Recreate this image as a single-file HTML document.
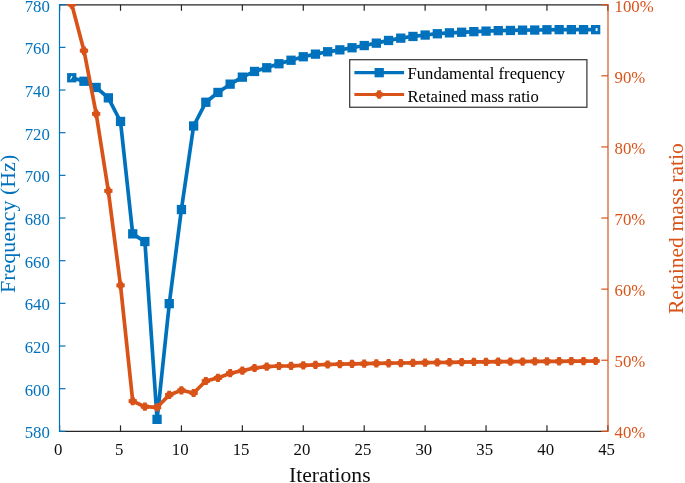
<!DOCTYPE html>
<html><head><meta charset="utf-8"><title>Iterations</title>
<style>
html,body{margin:0;padding:0;background:#fff;}
svg{display:block;}
text{font-family:"Liberation Serif","Times New Roman",serif;}
.tk{font-size:16.8px;}
.lab{font-size:21.8px;}
.leg{font-size:16.65px;}
</style></head><body>
<svg width="685" height="483" viewBox="0 0 685 483">
<rect width="685" height="483" fill="#fff"/>
<defs><clipPath id="c"><rect x="59.5" y="4.1000000000000005" width="548.5" height="427.25000000000006"/></clipPath></defs>

<g stroke="#262626" stroke-width="1.2" fill="none">
<line x1="59.5" y1="431.35" x2="608.0" y2="431.35"/>
<line x1="59.5" y1="4.8" x2="608.0" y2="4.8" stroke-width="1.15"/>
<line x1="59.60" y1="431.35" x2="59.60" y2="425.35"/>
<line x1="59.60" y1="4.7" x2="59.60" y2="10.8"/>
<line x1="120.52" y1="431.35" x2="120.52" y2="425.35"/>
<line x1="120.52" y1="4.7" x2="120.52" y2="10.8"/>
<line x1="181.44" y1="431.35" x2="181.44" y2="425.35"/>
<line x1="181.44" y1="4.7" x2="181.44" y2="10.8"/>
<line x1="242.36" y1="431.35" x2="242.36" y2="425.35"/>
<line x1="242.36" y1="4.7" x2="242.36" y2="10.8"/>
<line x1="303.28" y1="431.35" x2="303.28" y2="425.35"/>
<line x1="303.28" y1="4.7" x2="303.28" y2="10.8"/>
<line x1="364.20" y1="431.35" x2="364.20" y2="425.35"/>
<line x1="364.20" y1="4.7" x2="364.20" y2="10.8"/>
<line x1="425.12" y1="431.35" x2="425.12" y2="425.35"/>
<line x1="425.12" y1="4.7" x2="425.12" y2="10.8"/>
<line x1="486.04" y1="431.35" x2="486.04" y2="425.35"/>
<line x1="486.04" y1="4.7" x2="486.04" y2="10.8"/>
<line x1="546.96" y1="431.35" x2="546.96" y2="425.35"/>
<line x1="546.96" y1="4.7" x2="546.96" y2="10.8"/>
<line x1="607.88" y1="431.35" x2="607.88" y2="425.35"/>
<line x1="607.88" y1="4.7" x2="607.88" y2="10.8"/>
</g>
<g clip-path="url(#c)">
<polyline points="71.8,77.8 84.0,81.3 96.2,87.5 108.3,97.9 120.5,121.5 132.7,233.9 144.9,241.6 157.1,419.3 169.3,303.6 181.4,209.6 193.6,126.0 205.8,102.3 218.0,92.5 230.2,84.2 242.4,77.2 254.5,71.4 266.7,67.7 278.9,63.7 291.1,60.2 303.3,56.8 315.5,54.1 327.6,51.8 339.8,49.9 352.0,47.8 364.2,45.5 376.4,43.1 388.6,40.4 400.8,38.1 412.9,36.4 425.1,35.0 437.3,33.7 449.5,32.9 461.7,32.3 473.9,31.7 486.0,31.1 498.2,30.6 510.4,30.4 522.6,30.2 534.8,30.0 547.0,29.8 559.1,29.6 571.3,29.6 583.5,29.6 595.7,29.6" fill="none" stroke="#0072BD" stroke-width="3.7" stroke-linejoin="round"/>
<rect x="67.1" y="73.1" width="9.3" height="9.3" fill="#0072BD"/>
<rect x="79.3" y="76.6" width="9.3" height="9.3" fill="#0072BD"/>
<rect x="91.5" y="82.8" width="9.3" height="9.3" fill="#0072BD"/>
<rect x="103.7" y="93.2" width="9.3" height="9.3" fill="#0072BD"/>
<rect x="115.9" y="116.8" width="9.3" height="9.3" fill="#0072BD"/>
<rect x="128.1" y="229.2" width="9.3" height="9.3" fill="#0072BD"/>
<rect x="140.2" y="236.9" width="9.3" height="9.3" fill="#0072BD"/>
<rect x="152.4" y="414.7" width="9.3" height="9.3" fill="#0072BD"/>
<rect x="164.6" y="299.0" width="9.3" height="9.3" fill="#0072BD"/>
<rect x="176.8" y="204.9" width="9.3" height="9.3" fill="#0072BD"/>
<rect x="189.0" y="121.3" width="9.3" height="9.3" fill="#0072BD"/>
<rect x="201.2" y="97.6" width="9.3" height="9.3" fill="#0072BD"/>
<rect x="213.3" y="87.8" width="9.3" height="9.3" fill="#0072BD"/>
<rect x="225.5" y="79.5" width="9.3" height="9.3" fill="#0072BD"/>
<rect x="237.7" y="72.5" width="9.3" height="9.3" fill="#0072BD"/>
<rect x="249.9" y="66.8" width="9.3" height="9.3" fill="#0072BD"/>
<rect x="262.1" y="63.1" width="9.3" height="9.3" fill="#0072BD"/>
<rect x="274.3" y="59.1" width="9.3" height="9.3" fill="#0072BD"/>
<rect x="286.4" y="55.6" width="9.3" height="9.3" fill="#0072BD"/>
<rect x="298.6" y="52.1" width="9.3" height="9.3" fill="#0072BD"/>
<rect x="310.8" y="49.5" width="9.3" height="9.3" fill="#0072BD"/>
<rect x="323.0" y="47.1" width="9.3" height="9.3" fill="#0072BD"/>
<rect x="335.2" y="45.2" width="9.3" height="9.3" fill="#0072BD"/>
<rect x="347.4" y="43.1" width="9.3" height="9.3" fill="#0072BD"/>
<rect x="359.6" y="40.9" width="9.3" height="9.3" fill="#0072BD"/>
<rect x="371.7" y="38.5" width="9.3" height="9.3" fill="#0072BD"/>
<rect x="383.9" y="35.8" width="9.3" height="9.3" fill="#0072BD"/>
<rect x="396.1" y="33.5" width="9.3" height="9.3" fill="#0072BD"/>
<rect x="408.3" y="31.8" width="9.3" height="9.3" fill="#0072BD"/>
<rect x="420.5" y="30.4" width="9.3" height="9.3" fill="#0072BD"/>
<rect x="432.7" y="29.1" width="9.3" height="9.3" fill="#0072BD"/>
<rect x="444.8" y="28.2" width="9.3" height="9.3" fill="#0072BD"/>
<rect x="457.0" y="27.6" width="9.3" height="9.3" fill="#0072BD"/>
<rect x="469.2" y="27.0" width="9.3" height="9.3" fill="#0072BD"/>
<rect x="481.4" y="26.5" width="9.3" height="9.3" fill="#0072BD"/>
<rect x="493.6" y="26.0" width="9.3" height="9.3" fill="#0072BD"/>
<rect x="505.8" y="25.8" width="9.3" height="9.3" fill="#0072BD"/>
<rect x="517.9" y="25.5" width="9.3" height="9.3" fill="#0072BD"/>
<rect x="530.1" y="25.4" width="9.3" height="9.3" fill="#0072BD"/>
<rect x="542.3" y="25.1" width="9.3" height="9.3" fill="#0072BD"/>
<rect x="554.5" y="25.0" width="9.3" height="9.3" fill="#0072BD"/>
<rect x="566.7" y="25.0" width="9.3" height="9.3" fill="#0072BD"/>
<rect x="578.9" y="25.0" width="9.3" height="9.3" fill="#0072BD"/>
<rect x="591.0" y="25.0" width="9.3" height="9.3" fill="#0072BD"/>
<path d="M69.88 79.20L71.28 75.90L72.68 75.90L70.98 79.20Z" fill="#fff"/>
<rect x="595.65" y="28.15" width="1.9" height="2.9" fill="#fff"/>
<polyline points="71.8,4.5 84.0,50.7 96.2,113.8 108.3,190.8 120.5,285.3 132.7,401.1 144.9,406.7 157.1,407.3 169.3,394.9 181.4,390.3 193.6,393.0 205.8,381.0 218.0,377.9 230.2,373.2 242.4,370.6 254.5,368.0 266.7,366.6 278.9,366.0 291.1,365.8 303.3,365.3 315.5,364.9 327.6,364.5 339.8,364.1 352.0,363.8 364.2,363.6 376.4,363.4 388.6,363.2 400.8,363.0 412.9,362.9 425.1,362.7 437.3,362.5 449.5,362.3 461.7,362.1 473.9,361.9 486.0,361.8 498.2,361.7 510.4,361.6 522.6,361.5 534.8,361.4 547.0,361.4 559.1,361.3 571.3,361.2 583.5,361.1 595.7,361.0" fill="none" stroke="#D95319" stroke-width="3.7" stroke-linejoin="round"/>
<path d="M67.6 4.5H75.9M71.8 0.3V8.7" stroke="#D95319" stroke-width="3.7" fill="none"/><path d="M69.3 2.0L74.2 7.0M69.3 7.0L74.2 2.0" stroke="#D95319" stroke-width="3.0" fill="none"/>
<path d="M79.8 50.7H88.1M84.0 46.6V54.9" stroke="#D95319" stroke-width="3.7" fill="none"/><path d="M81.5 48.2L86.4 53.2M81.5 53.2L86.4 48.2" stroke="#D95319" stroke-width="3.0" fill="none"/>
<path d="M92.0 113.8H100.3M96.2 109.6V118.0" stroke="#D95319" stroke-width="3.7" fill="none"/><path d="M93.7 111.3L98.6 116.2M93.7 116.2L98.6 111.3" stroke="#D95319" stroke-width="3.0" fill="none"/>
<path d="M104.2 190.8H112.5M108.3 186.7V195.0" stroke="#D95319" stroke-width="3.7" fill="none"/><path d="M105.9 188.4L110.8 193.2M105.9 193.2L110.8 188.4" stroke="#D95319" stroke-width="3.0" fill="none"/>
<path d="M116.4 285.3H124.7M120.5 281.2V289.4" stroke="#D95319" stroke-width="3.7" fill="none"/><path d="M118.1 282.9L123.0 287.8M118.1 287.8L123.0 282.9" stroke="#D95319" stroke-width="3.0" fill="none"/>
<path d="M128.6 401.1H136.9M132.7 397.0V405.2" stroke="#D95319" stroke-width="3.7" fill="none"/><path d="M130.3 398.7L135.2 403.6M130.3 403.6L135.2 398.7" stroke="#D95319" stroke-width="3.0" fill="none"/>
<path d="M140.7 406.7H149.0M144.9 402.6V410.8" stroke="#D95319" stroke-width="3.7" fill="none"/><path d="M142.4 404.2L147.3 409.1M142.4 409.1L147.3 404.2" stroke="#D95319" stroke-width="3.0" fill="none"/>
<path d="M152.9 407.3H161.2M157.1 403.2V411.4" stroke="#D95319" stroke-width="3.7" fill="none"/><path d="M154.6 404.9L159.5 409.8M154.6 409.8L159.5 404.9" stroke="#D95319" stroke-width="3.0" fill="none"/>
<path d="M165.1 394.9H173.4M169.3 390.8V399.0" stroke="#D95319" stroke-width="3.7" fill="none"/><path d="M166.8 392.4L171.7 397.3M166.8 397.3L171.7 392.4" stroke="#D95319" stroke-width="3.0" fill="none"/>
<path d="M177.3 390.3H185.6M181.4 386.2V394.4" stroke="#D95319" stroke-width="3.7" fill="none"/><path d="M179.0 387.9L183.9 392.8M179.0 392.8L183.9 387.9" stroke="#D95319" stroke-width="3.0" fill="none"/>
<path d="M189.5 393.0H197.8M193.6 388.9V397.1" stroke="#D95319" stroke-width="3.7" fill="none"/><path d="M191.2 390.6L196.1 395.4M191.2 395.4L196.1 390.6" stroke="#D95319" stroke-width="3.0" fill="none"/>
<path d="M201.7 381.0H210.0M205.8 376.9V385.1" stroke="#D95319" stroke-width="3.7" fill="none"/><path d="M203.4 378.6L208.3 383.4M203.4 383.4L208.3 378.6" stroke="#D95319" stroke-width="3.0" fill="none"/>
<path d="M213.8 377.9H222.1M218.0 373.8V382.0" stroke="#D95319" stroke-width="3.7" fill="none"/><path d="M215.5 375.4L220.4 380.3M215.5 380.3L220.4 375.4" stroke="#D95319" stroke-width="3.0" fill="none"/>
<path d="M226.0 373.2H234.3M230.2 369.1V377.3" stroke="#D95319" stroke-width="3.7" fill="none"/><path d="M227.7 370.8L232.6 375.6M227.7 375.6L232.6 370.8" stroke="#D95319" stroke-width="3.0" fill="none"/>
<path d="M238.2 370.6H246.5M242.4 366.5V374.8" stroke="#D95319" stroke-width="3.7" fill="none"/><path d="M239.9 368.2L244.8 373.1M239.9 373.1L244.8 368.2" stroke="#D95319" stroke-width="3.0" fill="none"/>
<path d="M250.4 368.0H258.7M254.5 363.9V372.1" stroke="#D95319" stroke-width="3.7" fill="none"/><path d="M252.1 365.6L257.0 370.4M252.1 370.4L257.0 365.6" stroke="#D95319" stroke-width="3.0" fill="none"/>
<path d="M262.6 366.6H270.9M266.7 362.5V370.8" stroke="#D95319" stroke-width="3.7" fill="none"/><path d="M264.3 364.2L269.2 369.1M264.3 369.1L269.2 364.2" stroke="#D95319" stroke-width="3.0" fill="none"/>
<path d="M274.8 366.0H283.1M278.9 361.9V370.1" stroke="#D95319" stroke-width="3.7" fill="none"/><path d="M276.5 363.6L281.4 368.4M276.5 368.4L281.4 363.6" stroke="#D95319" stroke-width="3.0" fill="none"/>
<path d="M286.9 365.8H295.2M291.1 361.7V369.9" stroke="#D95319" stroke-width="3.7" fill="none"/><path d="M288.6 363.4L293.5 368.2M288.6 368.2L293.5 363.4" stroke="#D95319" stroke-width="3.0" fill="none"/>
<path d="M299.1 365.3H307.4M303.3 361.2V369.4" stroke="#D95319" stroke-width="3.7" fill="none"/><path d="M300.8 362.9L305.7 367.8M300.8 367.8L305.7 362.9" stroke="#D95319" stroke-width="3.0" fill="none"/>
<path d="M311.3 364.9H319.6M315.5 360.8V369.0" stroke="#D95319" stroke-width="3.7" fill="none"/><path d="M313.0 362.4L317.9 367.3M313.0 367.3L317.9 362.4" stroke="#D95319" stroke-width="3.0" fill="none"/>
<path d="M323.5 364.5H331.8M327.6 360.4V368.6" stroke="#D95319" stroke-width="3.7" fill="none"/><path d="M325.2 362.1L330.1 366.9M325.2 366.9L330.1 362.1" stroke="#D95319" stroke-width="3.0" fill="none"/>
<path d="M335.7 364.1H344.0M339.8 360.0V368.2" stroke="#D95319" stroke-width="3.7" fill="none"/><path d="M337.4 361.7L342.3 366.6M337.4 366.6L342.3 361.7" stroke="#D95319" stroke-width="3.0" fill="none"/>
<path d="M347.9 363.8H356.2M352.0 359.7V367.9" stroke="#D95319" stroke-width="3.7" fill="none"/><path d="M349.6 361.4L354.5 366.2M349.6 366.2L354.5 361.4" stroke="#D95319" stroke-width="3.0" fill="none"/>
<path d="M360.1 363.6H368.3M364.2 359.5V367.8" stroke="#D95319" stroke-width="3.7" fill="none"/><path d="M361.8 361.2L366.6 366.1M361.8 366.1L366.6 361.2" stroke="#D95319" stroke-width="3.0" fill="none"/>
<path d="M372.2 363.4H380.5M376.4 359.3V367.6" stroke="#D95319" stroke-width="3.7" fill="none"/><path d="M373.9 361.0L378.8 365.9M373.9 365.9L378.8 361.0" stroke="#D95319" stroke-width="3.0" fill="none"/>
<path d="M384.4 363.2H392.7M388.6 359.1V367.4" stroke="#D95319" stroke-width="3.7" fill="none"/><path d="M386.1 360.8L391.0 365.7M386.1 365.7L391.0 360.8" stroke="#D95319" stroke-width="3.0" fill="none"/>
<path d="M396.6 363.0H404.9M400.8 358.9V367.2" stroke="#D95319" stroke-width="3.7" fill="none"/><path d="M398.3 360.6L403.2 365.5M398.3 365.5L403.2 360.6" stroke="#D95319" stroke-width="3.0" fill="none"/>
<path d="M408.8 362.9H417.1M412.9 358.7V367.0" stroke="#D95319" stroke-width="3.7" fill="none"/><path d="M410.5 360.4L415.4 365.3M410.5 365.3L415.4 360.4" stroke="#D95319" stroke-width="3.0" fill="none"/>
<path d="M421.0 362.7H429.3M425.1 358.5V366.8" stroke="#D95319" stroke-width="3.7" fill="none"/><path d="M422.7 360.2L427.6 365.1M422.7 365.1L427.6 360.2" stroke="#D95319" stroke-width="3.0" fill="none"/>
<path d="M433.2 362.5H441.5M437.3 358.3V366.6" stroke="#D95319" stroke-width="3.7" fill="none"/><path d="M434.9 360.0L439.8 364.9M434.9 364.9L439.8 360.0" stroke="#D95319" stroke-width="3.0" fill="none"/>
<path d="M445.3 362.3H453.6M449.5 358.1V366.4" stroke="#D95319" stroke-width="3.7" fill="none"/><path d="M447.0 359.8L451.9 364.7M447.0 364.7L451.9 359.8" stroke="#D95319" stroke-width="3.0" fill="none"/>
<path d="M457.5 362.1H465.8M461.7 357.9V366.2" stroke="#D95319" stroke-width="3.7" fill="none"/><path d="M459.2 359.6L464.1 364.5M459.2 364.5L464.1 359.6" stroke="#D95319" stroke-width="3.0" fill="none"/>
<path d="M469.7 361.9H478.0M473.9 357.8V366.0" stroke="#D95319" stroke-width="3.7" fill="none"/><path d="M471.4 359.4L476.3 364.3M471.4 364.3L476.3 359.4" stroke="#D95319" stroke-width="3.0" fill="none"/>
<path d="M481.9 361.8H490.2M486.0 357.7V366.0" stroke="#D95319" stroke-width="3.7" fill="none"/><path d="M483.6 359.4L488.5 364.3M483.6 364.3L488.5 359.4" stroke="#D95319" stroke-width="3.0" fill="none"/>
<path d="M494.1 361.7H502.4M498.2 357.6V365.9" stroke="#D95319" stroke-width="3.7" fill="none"/><path d="M495.8 359.3L500.7 364.2M495.8 364.2L500.7 359.3" stroke="#D95319" stroke-width="3.0" fill="none"/>
<path d="M506.3 361.6H514.6M510.4 357.5V365.8" stroke="#D95319" stroke-width="3.7" fill="none"/><path d="M508.0 359.2L512.9 364.1M508.0 364.1L512.9 359.2" stroke="#D95319" stroke-width="3.0" fill="none"/>
<path d="M518.4 361.5H526.7M522.6 357.4V365.7" stroke="#D95319" stroke-width="3.7" fill="none"/><path d="M520.1 359.1L525.0 364.0M520.1 364.0L525.0 359.1" stroke="#D95319" stroke-width="3.0" fill="none"/>
<path d="M530.6 361.4H538.9M534.8 357.3V365.6" stroke="#D95319" stroke-width="3.7" fill="none"/><path d="M532.3 359.0L537.2 363.9M532.3 363.9L537.2 359.0" stroke="#D95319" stroke-width="3.0" fill="none"/>
<path d="M542.8 361.4H551.1M547.0 357.2V365.5" stroke="#D95319" stroke-width="3.7" fill="none"/><path d="M544.5 358.9L549.4 363.8M544.5 363.8L549.4 358.9" stroke="#D95319" stroke-width="3.0" fill="none"/>
<path d="M555.0 361.3H563.3M559.1 357.1V365.4" stroke="#D95319" stroke-width="3.7" fill="none"/><path d="M556.7 358.8L561.6 363.7M556.7 363.7L561.6 358.8" stroke="#D95319" stroke-width="3.0" fill="none"/>
<path d="M567.2 361.2H575.5M571.3 357.0V365.3" stroke="#D95319" stroke-width="3.7" fill="none"/><path d="M568.9 358.7L573.8 363.6M568.9 363.6L573.8 358.7" stroke="#D95319" stroke-width="3.0" fill="none"/>
<path d="M579.4 361.1H587.7M583.5 356.9V365.2" stroke="#D95319" stroke-width="3.7" fill="none"/><path d="M581.1 358.6L586.0 363.5M581.1 363.5L586.0 358.6" stroke="#D95319" stroke-width="3.0" fill="none"/>
<path d="M591.5 361.0H599.8M595.7 356.9V365.1" stroke="#D95319" stroke-width="3.7" fill="none"/><path d="M593.2 358.6L598.1 363.4M593.2 363.4L598.1 358.6" stroke="#D95319" stroke-width="3.0" fill="none"/>
</g>
<g stroke="#0072BD" stroke-width="1.2" fill="none">
<line x1="59.5" y1="4.1000000000000005" x2="59.5" y2="431.95000000000005"/>
<line x1="59.5" y1="431.35" x2="65.5" y2="431.35"/>
<line x1="59.5" y1="388.69" x2="65.5" y2="388.69"/>
<line x1="59.5" y1="346.02" x2="65.5" y2="346.02"/>
<line x1="59.5" y1="303.36" x2="65.5" y2="303.36"/>
<line x1="59.5" y1="260.69" x2="65.5" y2="260.69"/>
<line x1="59.5" y1="218.03" x2="65.5" y2="218.03"/>
<line x1="59.5" y1="175.36" x2="65.5" y2="175.36"/>
<line x1="59.5" y1="132.69" x2="65.5" y2="132.69"/>
<line x1="59.5" y1="90.03" x2="65.5" y2="90.03"/>
<line x1="59.5" y1="47.37" x2="65.5" y2="47.37"/>
<line x1="59.5" y1="4.70" x2="65.5" y2="4.70"/>
</g>
<g fill="#0072BD" class="tk" text-anchor="end">
<text x="49.9" y="438.20">580</text>
<text x="49.9" y="395.54">600</text>
<text x="49.9" y="352.87">620</text>
<text x="49.9" y="310.21">640</text>
<text x="49.9" y="267.54">660</text>
<text x="49.9" y="224.88">680</text>
<text x="49.9" y="182.21">700</text>
<text x="49.9" y="139.54">720</text>
<text x="49.9" y="96.88">740</text>
<text x="49.9" y="54.22">760</text>
<text x="49.9" y="11.55">780</text>
</g>
<g stroke="#D95319" stroke-width="1.2" fill="none">
<line x1="608.0" y1="4.1000000000000005" x2="608.0" y2="431.95000000000005"/>
<line x1="608.0" y1="431.35" x2="601.3" y2="431.35"/>
<line x1="608.0" y1="360.24" x2="601.3" y2="360.24"/>
<line x1="608.0" y1="289.13" x2="601.3" y2="289.13"/>
<line x1="608.0" y1="218.03" x2="601.3" y2="218.03"/>
<line x1="608.0" y1="146.92" x2="601.3" y2="146.92"/>
<line x1="608.0" y1="75.81" x2="601.3" y2="75.81"/>
<line x1="608.0" y1="4.70" x2="601.3" y2="4.70"/>
</g>
<g fill="#D95319" class="tk">
<text x="614.5" y="438.20">40%</text>
<text x="614.5" y="367.09">50%</text>
<text x="614.5" y="295.98">60%</text>
<text x="614.5" y="224.88">70%</text>
<text x="614.5" y="153.77">80%</text>
<text x="614.5" y="82.66">90%</text>
<text x="614.5" y="11.55">100%</text>
</g>
<g fill="#0d0d0d" class="tk" text-anchor="middle">
<text x="58.30" y="454.9">0</text>
<text x="119.22" y="454.9">5</text>
<text x="180.14" y="454.9">10</text>
<text x="241.06" y="454.9">15</text>
<text x="301.98" y="454.9">20</text>
<text x="362.90" y="454.9">25</text>
<text x="423.82" y="454.9">30</text>
<text x="484.74" y="454.9">35</text>
<text x="545.66" y="454.9">40</text>
<text x="606.58" y="454.9">45</text>
</g>
<text class="lab" style="font-size:21.6px" fill="#0d0d0d" text-anchor="middle" x="329.8" y="482.4">Iterations</text>
<text class="lab" fill="#0072BD" style="font-size:21.95px" text-anchor="middle" transform="translate(14.8,223.9) rotate(-90)">Frequency (Hz)</text>
<text class="lab" fill="#D95319" text-anchor="middle" style="font-size:21.7px" transform="translate(683,228.6) rotate(-90)">Retained mass ratio</text>
<rect x="349.7" y="59.7" width="237.2" height="47.55" fill="#fff" stroke="#3a3a3a" stroke-width="1.25"/>
<line x1="354.4" y1="72.65" x2="404.1" y2="72.65" stroke="#0072BD" stroke-width="3.1"/>
<rect x="374.55" y="68.0" width="9.3" height="9.3" fill="#0072BD"/>
<line x1="354.4" y1="94.5" x2="404.1" y2="94.5" stroke="#D95319" stroke-width="3.1"/>
<path d="M375.1 94.5H383.3M379.2 90.3V98.7" stroke="#D95319" stroke-width="3.7" fill="none"/><path d="M376.8 92.0L381.6 97.0M376.8 97.0L381.6 92.0" stroke="#D95319" stroke-width="3.0" fill="none"/>
<text class="leg" fill="#000" x="407.5" y="79">Fundamental frequency</text>
<text class="leg" fill="#000" x="407.5" y="101.7">Retained mass ratio</text>
</svg></body></html>
